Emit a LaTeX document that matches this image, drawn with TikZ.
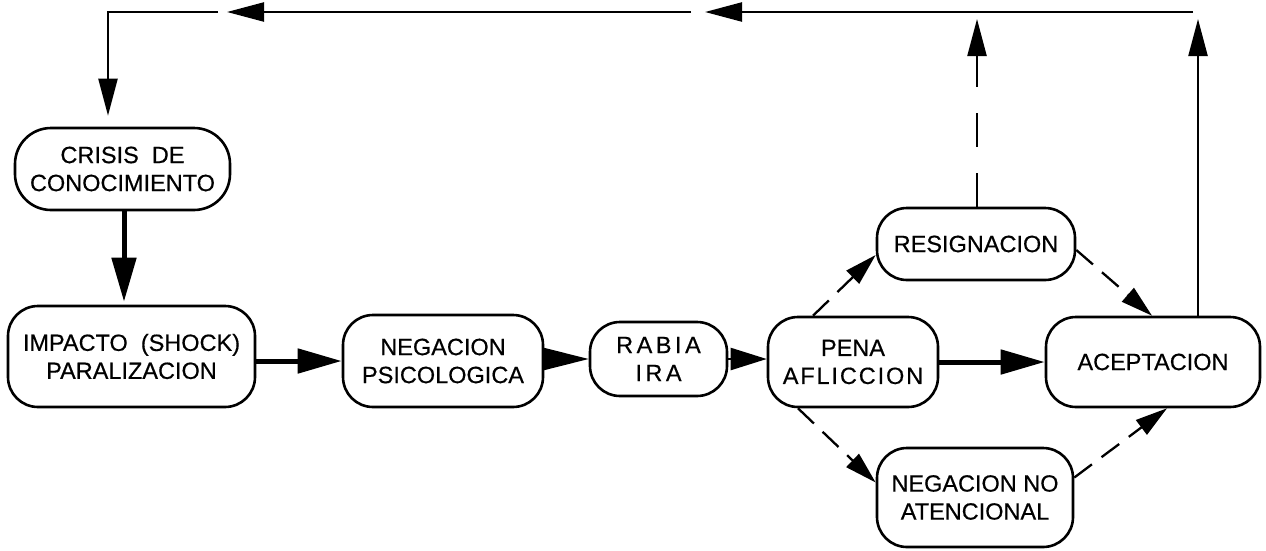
\documentclass[tikz,border=0pt]{standalone}
\usepackage{fontspec}
\setmainfont{Liberation Sans}[FakeBold=0.5]
\newfontfamily\spacedA[LetterSpace=15,FakeBold=0.5]{Liberation Sans}
\newfontfamily\spacedB[LetterSpace=8,FakeBold=0.5]{Liberation Sans}
\usetikzlibrary{arrows.meta,calc}
\begin{document}
\begin{tikzpicture}[x=1pt,y=-1pt,
  box/.style={draw, line width=2.6pt, rounded corners=30pt, align=center, inner sep=0pt,
    font=\fontsize{23.5}{28}\selectfont},
  thinline/.style={line width=2.3pt},
  thickline/.style={line width=5pt},
  toptip/.style={-{Triangle[length=37pt,width=19pt]}},
  bigtip/.style={-{Triangle[length=44pt,width=24pt]}},
  dashtip/.style={-{Triangle[length=32pt,width=18pt]}},
  dsh/.style={thinline, dash pattern=on 22pt off 12pt, dashtip},
]
\useasboundingbox (0,0) rectangle (1266,550);

% nodes
\node[box, minimum width=215pt, minimum height=82pt, rounded corners=36pt] (crisis) at (122.5,169) {CRISIS\ \ DE\\CONOCIMIENTO};
\node[box, minimum width=247pt, minimum height=101pt] (impacto) at (131.5,356.5) {IMPACTO\ \ (SHOCK)\\PARALIZACION};
\node[box, minimum width=200pt, minimum height=92pt] (negpsi) at (443,361) {NEGACION\\PSICOLOGICA};
\node[box, minimum width=137pt, minimum height=74pt] (rabia) at (658.5,359) {\spacedA RABIA\\\spacedA IRA};
\node[box, minimum width=170pt, minimum height=90pt] (pena) at (853,362) {PENA\\\spacedB AFLICCION};
\node[box, minimum width=214pt, minimum height=90pt] (acept) at (1153,362) {ACEPTACION};
\node[box, minimum width=198pt, minimum height=72pt] (resig) at (976,244) {RESIGNACION};
\node[box, minimum width=196pt, minimum height=99pt] (negno) at (975,497.5) {NEGACION NO\\ATENCIONAL};

% free ends on top
\coordinate (tr) at (1193,12);
\coordinate (ta) at (1198,19);
\coordinate (tb) at (977,19);
\coordinate (m1) at (705,12);
\coordinate (m2) at (691,12);
\coordinate (m3) at (227,12);
\coordinate (m4) at (218,12);
\coordinate (m5) at (108,12);

% feedback loop
\draw[thinline, toptip] (acept.north -| ta) -- (ta);
\draw[thinline, toptip, dash pattern=on 34pt off 26pt] (resig.north -| tb) -- (tb);
\draw[thinline, toptip] (tr) -- (m1);
\draw[thinline, toptip] (m2) -- (m3);
\draw[thinline, toptip, shorten >=11pt] (m4) -- (m5) -- ([xshift=-14.5pt]crisis.north);

% main chain
\draw[thickline, bigtip, shorten >=3pt] ([xshift=1.5pt]crisis.south) -- ([xshift=1.5pt]crisis.south |- impacto.north);
\draw[thickline, bigtip] (impacto.east |- negpsi.west) -- (negpsi.west);
\draw[thinline, -{Triangle[length=45pt,width=22pt]}] (negpsi.east |- rabia.west) -- (rabia.west);
\draw[thinline, -{Triangle[length=36pt,width=22pt]}] (rabia.east) -- (pena.west |- rabia.east);
\draw[thickline, bigtip] (pena.east) -- (acept.west);

% dashed branches
\draw[dsh] ([xshift=-40pt]pena.north) -- ([yshift=-11pt]resig.west);
\draw[dsh] ([yshift=-6pt]resig.east) -- ([xshift=-1pt]acept.north);
\draw[dsh] ([xshift=-55pt]pena.south) -- ([yshift=15pt]negno.west);
\draw[dsh] ([yshift=20pt]negno.east) -- ([xshift=14pt]acept.south);
\end{tikzpicture}
\end{document}
